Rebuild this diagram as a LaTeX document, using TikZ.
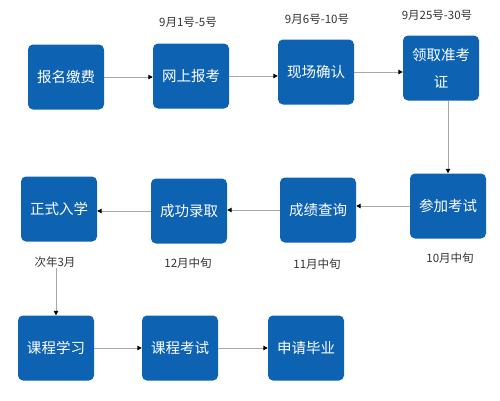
\documentclass[tikz,border=0pt]{standalone}
\usepackage{fontspec}
\setmainfont{Noto Sans CJK SC}
\usetikzlibrary{arrows.meta}
\definecolor{boxblue}{HTML}{0D62B2}
\definecolor{linegray}{HTML}{A8A8A8}
\definecolor{labelgray}{HTML}{333333}
\tikzset{
  stepbox/.style={draw=none, fill=boxblue, rounded corners=5pt, minimum width=76pt, minimum height=65pt, text=white, font=\fontsize{14.5}{27}\selectfont, align=center, inner sep=2pt},
  datelabel/.style={text=labelgray, font=\fontsize{11.5}{13}\selectfont, inner sep=0pt},
  flow/.style={draw=linegray, line width=1pt, -{Triangle[width=4.5pt,length=4.5pt,color=black]}}
}
\begin{document}
\begin{tikzpicture}[x=1pt,y=-1pt]
\useasboundingbox (0,0) rectangle (500,400);
\node[stepbox] (a1) at (66,77) {报名缴费};
\node[stepbox] (a2) at (191,76) {网上报考};
\node[stepbox] (a3) at (316,72) {现场确认};
\node[stepbox] (a4) at (441,68) {领取准考\\证};
\node[stepbox] (b4) at (448,206) {参加考试};
\node[stepbox] (b3) at (318,210) {成绩查询};
\node[stepbox] (b2) at (189,211) {成功录取};
\node[stepbox] (b1) at (59,209) {正式入学};
\node[stepbox] (c1) at (56,348) {课程学习};
\node[stepbox] (c2) at (180,348) {课程考试};
\node[stepbox] (c3) at (306,348) {申请毕业};
\node[datelabel] (l2) at (188,22) {9月1号-5号};
\node[datelabel] (l3) at (317,19) {9月6号-10号};
\node[datelabel] (l4) at (437,15) {9月25号-30号};
\node[datelabel] (m4) at (450,258) {10月中旬};
\node[datelabel] (m3) at (317,264) {11月中旬};
\node[datelabel] (m2) at (188,263) {12月中旬};
\node[datelabel] (m1) at (55,262) {次年3月};
\draw[flow] (a1.east) -- (a1.east -| a2.west);
\draw[flow] (a2.east) -- (a2.east -| a3.west);
\draw[flow] (a3.east) -- (a3.east -| a4.west);
\draw[flow] (a4.south -| b4.north) -- (b4.north);
\draw[flow] (b4.west) -- (b4.west -| b3.east);
\draw[flow] (b3.west) -- (b3.west -| b2.east);
\draw[flow] (b2.west) -- (b2.west -| b1.east);
\draw[flow] (m1.south -| c1.north) -- (c1.north);
\draw[flow] (c1.east) -- (c1.east -| c2.west);
\draw[flow] (c2.east) -- (c2.east -| c3.west);
\end{tikzpicture}
\end{document}
